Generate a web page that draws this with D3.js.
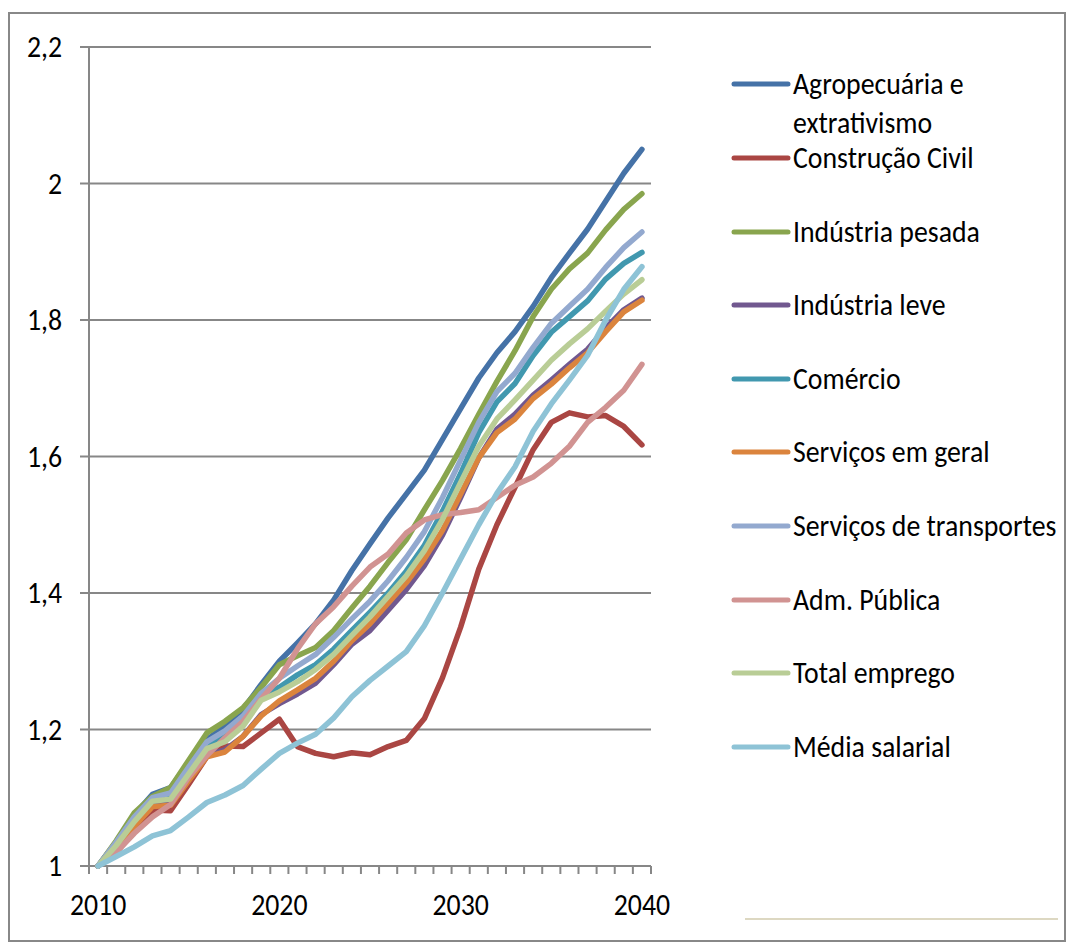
<!DOCTYPE html>
<html>
<head>
<meta charset="utf-8">
<script src="https://cdn.jsdelivr.net/npm/d3@7"></script>
<style>
  html, body { margin: 0; padding: 0; background: #fff; }
  svg text { font-family: Carlito, Calibri, Lato, sans-serif; fill: #000; }
</style>
</head>
<body>
<svg id="chart" width="1067" height="944"></svg>
<script>
// Years on the category axis
const years = [2010, 2011, 2012, 2013, 2014, 2015, 2016, 2017, 2018, 2019, 2020,
               2021, 2022, 2023, 2024, 2025, 2026, 2027, 2028, 2029, 2030,
               2031, 2032, 2033, 2034, 2035, 2036, 2037, 2038, 2039, 2040];

// Index values (2010 = 1) per sector
const agropecuaria   = [1.000,1.035,1.075,1.105,1.115,1.152,1.185,1.205,1.230,1.266,1.300,1.327,1.355,1.390,1.433,1.472,1.510,1.545,1.580,1.625,1.670,1.715,1.752,1.783,1.820,1.862,1.898,1.933,1.974,2.015,2.050];
const construcao     = [1.000,1.020,1.050,1.082,1.081,1.120,1.160,1.176,1.175,1.195,1.215,1.175,1.165,1.160,1.166,1.163,1.175,1.184,1.216,1.276,1.350,1.435,1.500,1.555,1.610,1.650,1.664,1.658,1.660,1.644,1.617];
const industriaPesada= [1.000,1.037,1.078,1.102,1.115,1.155,1.195,1.212,1.232,1.262,1.295,1.308,1.320,1.345,1.378,1.410,1.445,1.478,1.522,1.565,1.612,1.662,1.710,1.755,1.805,1.845,1.875,1.898,1.932,1.962,1.985];
const industriaLeve  = [1.000,1.027,1.060,1.090,1.093,1.128,1.162,1.170,1.190,1.222,1.238,1.252,1.268,1.295,1.325,1.345,1.375,1.405,1.440,1.485,1.540,1.598,1.640,1.662,1.690,1.712,1.735,1.757,1.788,1.815,1.832];
const comercio       = [1.000,1.030,1.068,1.095,1.102,1.140,1.175,1.190,1.212,1.245,1.262,1.280,1.295,1.318,1.345,1.372,1.400,1.432,1.470,1.520,1.575,1.635,1.680,1.707,1.748,1.782,1.805,1.828,1.860,1.883,1.899];
const servicosGeral  = [1.000,1.025,1.058,1.087,1.089,1.125,1.160,1.167,1.190,1.220,1.242,1.258,1.275,1.300,1.330,1.355,1.385,1.415,1.450,1.492,1.545,1.598,1.635,1.655,1.685,1.706,1.730,1.752,1.783,1.812,1.829];
const servicosTransp = [1.000,1.035,1.072,1.100,1.107,1.145,1.182,1.198,1.220,1.253,1.275,1.293,1.310,1.335,1.362,1.388,1.418,1.452,1.490,1.540,1.595,1.650,1.695,1.722,1.760,1.795,1.820,1.845,1.877,1.906,1.929];
const admPublica     = [1.000,1.020,1.048,1.072,1.090,1.130,1.162,1.188,1.212,1.245,1.275,1.318,1.355,1.380,1.410,1.438,1.457,1.488,1.507,1.515,1.518,1.522,1.540,1.558,1.570,1.590,1.615,1.650,1.672,1.697,1.735];
const totalEmprego   = [1.000,1.030,1.065,1.095,1.098,1.135,1.172,1.182,1.205,1.243,1.255,1.270,1.288,1.310,1.338,1.365,1.395,1.425,1.462,1.508,1.562,1.615,1.655,1.683,1.712,1.741,1.765,1.787,1.813,1.838,1.859];
const mediaSalarial  = [1.000,1.014,1.028,1.044,1.052,1.072,1.093,1.104,1.118,1.142,1.165,1.180,1.193,1.217,1.248,1.272,1.293,1.314,1.352,1.400,1.450,1.500,1.546,1.585,1.637,1.677,1.712,1.748,1.800,1.845,1.878];

const seriesNames = ["Agropecuária e extrativismo", "Construção Civil", "Indústria pesada",
  "Indústria leve", "Comércio", "Serviços em geral", "Serviços de transportes",
  "Adm. Pública", "Total emprego", "Média salarial"];
const seriesValues = [agropecuaria, construcao, industriaPesada, industriaLeve, comercio,
  servicosGeral, servicosTransp, admPublica, totalEmprego, mediaSalarial];
const seriesColors = ["#4572A7", "#AA4643", "#89A54E", "#71588F", "#4198AF",
  "#DB843D", "#93A9CF", "#D19392", "#B9CD96", "#8EC3D6"];

const yTicks = [1, 1.2, 1.4, 1.6, 1.8, 2, 2.2];
const xLabelYears = [2010, 2020, 2030, 2040];

const svg = d3.select("#chart");
const gridColor = "#878787";
const fontSize = 27.8;
const stretch = 1.1;   // text is drawn slightly taller than wide

// Places a text node at (px, py) with the vertical stretch applied
const place = (px, py) => `translate(${px},${py}) scale(1,${stretch})`;

// Outer frame
svg.append("rect")
  .attr("x", 9).attr("y", 13).attr("width", 1056).attr("height", 928)
  .attr("fill", "#fff").attr("stroke", "#888").attr("stroke-width", 2);

const plot = { left: 89, right: 651, top: 47, bottom: 866 };

const x = d3.scaleBand().domain(years).range([plot.left, plot.right]).paddingInner(0).paddingOuter(0);
const y = d3.scaleLinear().domain([1, 2.2]).range([plot.bottom, plot.top]);
const cx = yr => x(yr) + x.bandwidth() / 2;

const fmt = v => String(+v.toFixed(1)).replace(".", ",");

// Horizontal gridlines with left tick marks
const grid = svg.append("g");
grid.selectAll("line.h").data(yTicks).join("line")
  .attr("x1", plot.left - 9).attr("x2", plot.right)
  .attr("y1", d => y(d)).attr("y2", d => y(d))
  .attr("stroke", gridColor).attr("stroke-width", 2);

// Vertical axis line
grid.append("line")
  .attr("x1", plot.left).attr("x2", plot.left)
  .attr("y1", plot.top).attr("y2", plot.bottom)
  .attr("stroke", gridColor).attr("stroke-width", 2);

// Category boundary ticks under the horizontal axis
const boundaries = years.map(yr => x(yr)).concat([plot.right]);
grid.selectAll("line.t").data(boundaries).join("line")
  .attr("x1", d => d).attr("x2", d => d)
  .attr("y1", plot.bottom).attr("y2", plot.bottom + 8)
  .attr("stroke", gridColor).attr("stroke-width", 2);

// Y tick labels
svg.append("g").selectAll("text").data(yTicks).join("text")
  .attr("transform", d => place(62, y(d) + 10))
  .attr("text-anchor", "end")
  .style("font-size", fontSize + "px")
  .text(d => fmt(d));

// X tick labels
svg.append("g").selectAll("text").data(xLabelYears).join("text")
  .attr("transform", d => place(cx(d), 915))
  .attr("text-anchor", "middle")
  .style("font-size", fontSize + "px")
  .text(d => d);

// Series lines
const line = d3.line().x((d, i) => cx(years[i])).y(d => y(d));
svg.append("g").selectAll("path").data(seriesValues).join("path")
  .attr("d", d => line(d))
  .attr("fill", "none")
  .attr("stroke", (d, i) => seriesColors[i])
  .attr("stroke-width", 5.5)
  .attr("stroke-linejoin", "round")
  .attr("stroke-linecap", "round");

// Legend
const legendY = [84, 158, 232, 305, 379, 452, 526, 600, 673, 747];
const legend = svg.append("g");
seriesNames.forEach((name, i) => {
  const ly = legendY[i];
  legend.append("line")
    .attr("x1", 734).attr("x2", 788).attr("y1", ly).attr("y2", ly)
    .attr("stroke", seriesColors[i]).attr("stroke-width", 5)
    .attr("stroke-linecap", "round");
  const t = legend.append("text")
    .attr("transform", place(793, ly + 10))
    .style("font-size", fontSize + "px");
  if (i === 0) {
    t.append("tspan").attr("x", 0).text("Agropecuária e");
    t.append("tspan").attr("x", 0).attr("dy", 39 / stretch).text("extrativismo");
  } else {
    t.text(name);
  }
});

// Thin rule at the lower right
svg.append("line")
  .attr("x1", 745).attr("x2", 1058).attr("y1", 919).attr("y2", 919)
  .attr("stroke", "#DDD8C2").attr("stroke-width", 2);
</script>
</body>
</html>
